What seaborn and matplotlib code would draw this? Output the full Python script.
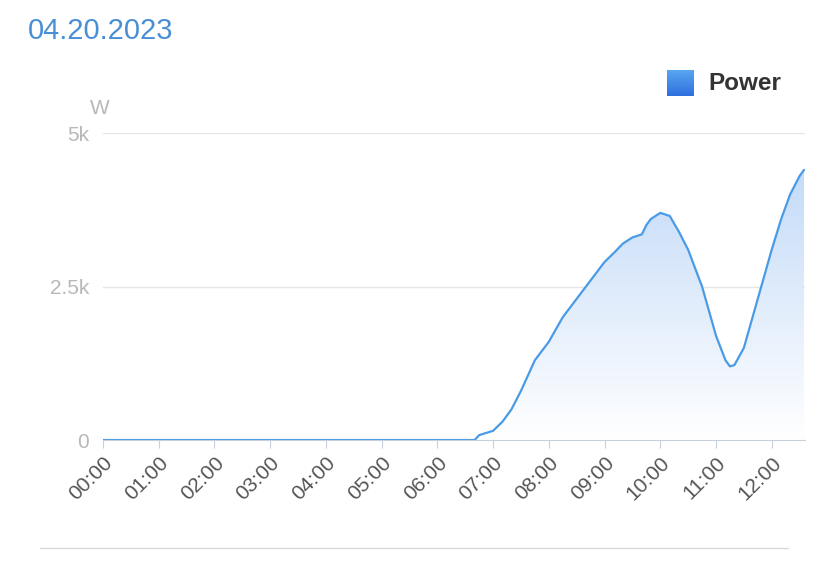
import numpy as np
import matplotlib
matplotlib.use("Agg")
import matplotlib.pyplot as plt
import seaborn as sns
from matplotlib.colors import LinearSegmentedColormap
from matplotlib.patches import Polygon

sns.set_style("white")
plt.rcParams['font.family'] = ['Liberation Sans', 'DejaVu Sans']

# time in hours, power in W
hours = [0.0, 6.67, 6.75, 7.0, 7.17, 7.33, 7.5, 7.75, 8.0, 8.25, 8.5, 8.75, 9.0,
         9.17, 9.33, 9.5, 9.67, 9.75, 9.83, 10.0, 10.17, 10.33, 10.5, 10.75,
         11.0, 11.17, 11.25, 11.33, 11.5, 11.75, 12.0, 12.17, 12.33, 12.5, 12.58]
power = [0, 0, 80, 150, 300, 500, 800, 1300, 1600, 2000, 2300, 2600, 2900,
         3050, 3200, 3300, 3350, 3500, 3600, 3700, 3650, 3400, 3100, 2500,
         1700, 1300, 1200, 1220, 1500, 2300, 3100, 3600, 4000, 4300, 4400]
tick_hours = list(range(13))
tick_labels = [f"{h:02d}:00" for h in tick_hours]

fig = plt.figure(figsize=(8.28, 5.77), dpi=100)
ax = fig.add_axes([0.1244, 0.2374, 0.848, 0.532])

sns.lineplot(x=hours, y=power, ax=ax, color="#4a9be6", linewidth=1.6)

# gradient fill under the curve
cmap = LinearSegmentedColormap.from_list("g", ["#ffffff", "#bcd6f7"])
grad = np.linspace(0, 1, 256).reshape(-1, 1)
im = ax.imshow(grad, extent=[0, 12.6, 0, 5000], origin="lower", aspect="auto",
               cmap=cmap, zorder=1)
poly = Polygon(list(zip(hours, power)) + [(hours[-1], 0), (0, 0)],
               closed=True, facecolor="none", edgecolor="none")
ax.add_patch(poly)
im.set_clip_path(poly)

ax.set_xlim(0, 12.6)
ax.set_ylim(0, 5000)
ax.set_yticks([0, 2500, 5000])
ax.set_yticklabels(["0", "2.5k", "5k"], color="#b8b8b8", fontsize=15)
ax.yaxis.grid(True, color="#e6e6e6", linewidth=1)
ax.set_xticks(tick_hours)
ax.set_xticklabels(tick_labels, rotation=45, ha="right", rotation_mode="anchor",
                   color="#555555", fontsize=15)
ax.tick_params(axis="x", length=6, color="#c8d0dc", bottom=True)
ax.tick_params(axis="y", length=0, pad=10)
for s in ["top", "right", "left"]:
    ax.spines[s].set_visible(False)
ax.spines["bottom"].set_color("#c8d0dc")

fig.text(0.034, 0.947, "04.20.2023", color="#4a8fd6", fontsize=21, va="center")
fig.text(0.109, 0.812, "W", color="#b8b8b8", fontsize=15, va="center")

# legend
sq = fig.add_axes([0.805, 0.833, 0.032, 0.046])
sq.imshow(np.linspace(0, 1, 50).reshape(-1, 1), cmap=LinearSegmentedColormap.from_list(
    "l", ["#5aa8f0", "#2f6fe0"]), aspect="auto")
sq.axis("off")
fig.text(0.856, 0.855, "Power", fontsize=17.5, fontweight="bold", color="#333333", va="center")

fig.add_artist(plt.Line2D([0.048, 0.952], [0.05, 0.05], color="#d8d8d8", linewidth=1))

fig.savefig("out.png", dpi=100)
